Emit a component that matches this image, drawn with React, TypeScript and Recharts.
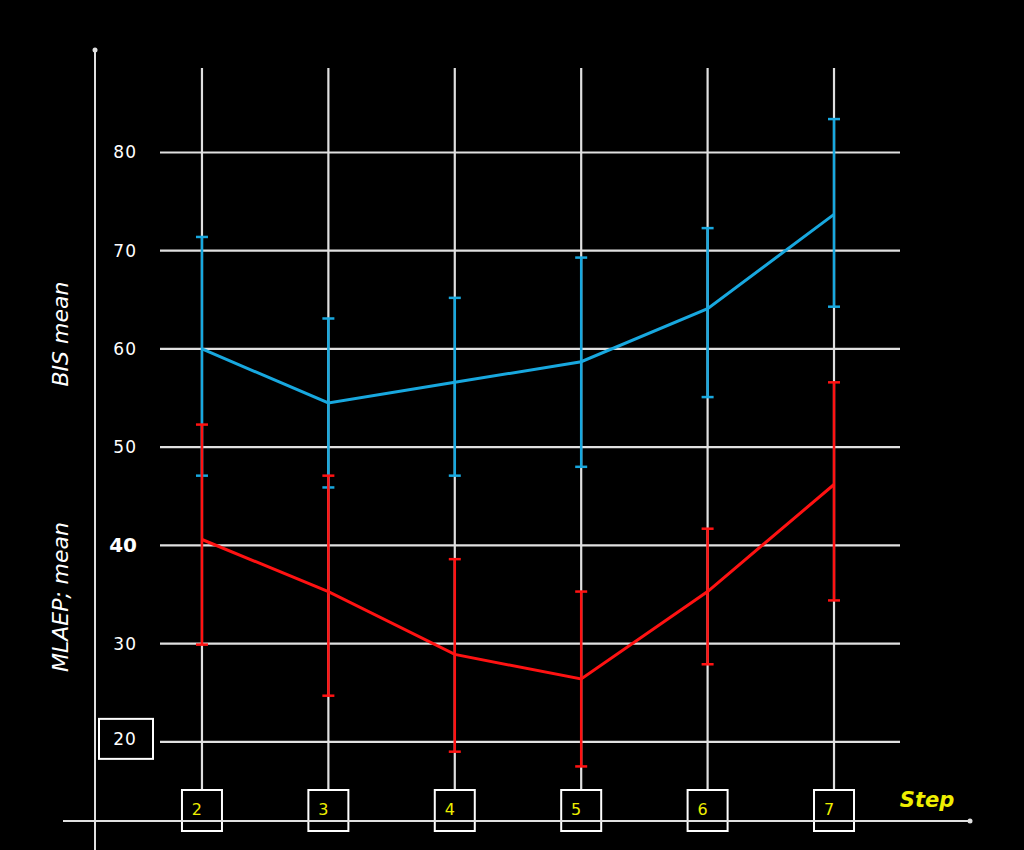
import React from 'react';
import { LineChart, Line, XAxis, YAxis, ReferenceLine, ErrorBar } from 'recharts';

// values
const steps = [2, 3, 4, 5, 6, 7];
const bisMean = [60.0, 54.5, 56.6, 58.7, 64.1, 73.7];
const bisHigh = [71.4, 63.1, 65.2, 69.3, 72.3, 83.4];
const bisLow = [47.1, 45.9, 47.1, 48.0, 55.1, 64.3];
const mlaepMean = [40.6, 35.3, 28.9, 26.4, 35.3, 46.2];
const mlaepHigh = [52.3, 47.1, 38.6, 35.3, 41.7, 56.6];
const mlaepLow = [29.9, 24.7, 19.0, 17.5, 27.9, 34.4];
const yTicks = [20, 30, 40, 50, 60, 70, 80];

const data = steps.map((step, i) => ({
  step,
  bis: bisMean[i],
  bisErr: [bisMean[i] - bisLow[i], bisHigh[i] - bisMean[i]],
  mlaep: mlaepMean[i],
  mlaepErr: [mlaepMean[i] - mlaepLow[i], mlaepHigh[i] - mlaepMean[i]],
}));

const GRID = '#e0e0e0';
const BLUE = '#18a8df';
const RED = '#ff1212';
const YELLOW = '#eeee00';
const FONT = '"DejaVu Sans", Verdana, sans-serif';

function YTick(props: any) {
  const { x, y, payload } = props;
  const v = payload.value;
  if (v === 20) {
    return (
      <g>
        <rect x={x - 61} y={y - 23} width={54} height={40} fill="none" stroke="#fff" strokeWidth={2} />
        <text x={x - 35} y={y - 3} textAnchor="middle" dominantBaseline="central"
          fill="#fff" fontFamily={FONT} fontSize={17} letterSpacing={1}>{v}</text>
      </g>
    );
  }
  const bold = v === 40;
  return (
    <text x={x - 23} y={y} textAnchor="end" dominantBaseline="central" fill="#fff"
      fontFamily={FONT} fontSize={bold ? 20 : 17} fontWeight={bold ? 'bold' : 'normal'}
      letterSpacing={bold ? 0 : 1}>
      {v}
    </text>
  );
}

function XTick(props: any) {
  const { x, y, payload } = props;
  return (
    <g>
      <rect x={x - 20} y={y} width={40} height={41} fill="none" stroke="#fff" strokeWidth={2} />
      <text x={x - 5} y={y + 19} textAnchor="middle" dominantBaseline="central" fill={YELLOW}
        fontFamily={FONT} fontSize={16}>{payload.value}</text>
    </g>
  );
}

export default function App() {
  return (
    <div style={{ position: 'absolute', left: 0, top: 0, width: 1024, height: 850, background: '#000', overflow: 'hidden' }}>
      <LineChart width={1024} height={850} data={data}
        margin={{ top: 68, right: 124, bottom: 20, left: 100 }}>
        <XAxis dataKey="step" type="number" domain={[1.668, 7.522]} ticks={steps}
          allowDataOverflow axisLine={false} tickLine={false} tickSize={0} tickMargin={0}
          height={40} tick={<XTick />} interval={0} />
        <YAxis type="number" domain={[15.1, 88.6]} ticks={yTicks} allowDataOverflow
          axisLine={false} tickLine={false} tickSize={0} tickMargin={0} width={60}
          tick={<YTick />} interval={0} />
        {yTicks.map((v) => (
          <ReferenceLine key={`h${v}`} y={v} stroke={GRID} strokeWidth={2.2} />
        ))}
        {steps.map((s) => (
          <ReferenceLine key={`v${s}`} x={s} stroke={GRID} strokeWidth={2.2} />
        ))}
        <Line dataKey="bis" type="linear" stroke={BLUE} strokeWidth={3} dot={false}
          activeDot={false} isAnimationActive={false}>
          <ErrorBar dataKey="bisErr" direction="y" width={6} stroke={BLUE} strokeWidth={2.5}
            isAnimationActive={false} />
        </Line>
        <Line dataKey="mlaep" type="linear" stroke={RED} strokeWidth={3} dot={false}
          activeDot={false} isAnimationActive={false}>
          <ErrorBar dataKey="mlaepErr" direction="y" width={6} stroke={RED} strokeWidth={2.5}
            isAnimationActive={false} />
        </Line>
      </LineChart>
      <svg width={1024} height={850} style={{ position: 'absolute', left: 0, top: 0, pointerEvents: 'none' }}>
        <line x1={95} y1={50} x2={95} y2={850} stroke={GRID} strokeWidth={2} />
        <circle cx={95} cy={50} r={2.5} fill={GRID} />
        <line x1={63} y1={821} x2={970} y2={821} stroke={GRID} strokeWidth={2} />
        <circle cx={970} cy={821} r={2.5} fill={GRID} />
        <text x={927} y={800} textAnchor="middle" dominantBaseline="central" fill={YELLOW}
          fontFamily={FONT} fontSize={21} fontWeight="bold" fontStyle="italic">Step</text>
        <text transform="translate(60,334) rotate(-90)" textAnchor="middle" dominantBaseline="central"
          fill="#fff" fontFamily={FONT} fontSize={22} fontStyle="italic">BIS mean</text>
        <text transform="translate(60,597) rotate(-90)" textAnchor="middle" dominantBaseline="central"
          fill="#fff" fontFamily={FONT} fontSize={22} fontStyle="italic">MLAEP; mean</text>
      </svg>
    </div>
  );
}
